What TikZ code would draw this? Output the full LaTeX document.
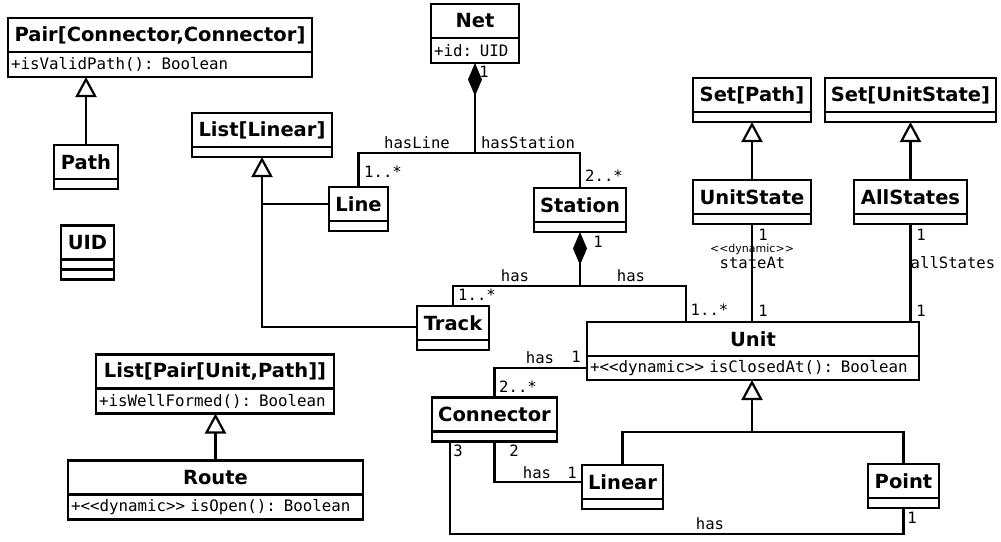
\documentclass[tikz,border=0pt]{standalone}
\usepackage{fontspec}
\setmainfont{DejaVu Sans}
\setmonofont{DejaVu Sans Mono}
\newfontfamily\smallsans{DejaVu Sans}
\usetikzlibrary{positioning,arrows.meta}

\begin{document}
\begin{tikzpicture}[x=1pt,y=-1pt,line width=2.2pt]
  \tikzset{cls/.style={draw,minimum width=#1,minimum height=34pt,inner sep=0pt,outer sep=0pt,font=\fontsize{19.5}{21}\selectfont\bfseries},
    body/.style={draw,text width=#1,inner xsep=3pt,inner ysep=0pt,outer sep=0pt,minimum height=10pt,align=left,font=\fontsize{15.8}{17}\selectfont\ttfamily},
    bodyt/.style={body=#1,minimum height=25pt},
    lbl/.style={inner sep=0pt,font=\fontsize{15.6}{17}\selectfont\ttfamily},
    tinylbl/.style={inner sep=0pt,font=\fontsize{11}{12}\selectfont\smallsans},
    gen/.style={-{Triangle[open,length=20pt,width=21pt,fill=white]}},
    comp/.style={-{Diamond[length=33pt,width=14pt]}}}
  \useasboundingbox (0,0) rectangle (1001,541);

  % classes
  \node[cls=304pt] (Pair) at (160,35) {Pair[Connector,Connector]};
  \node[bodyt=298pt,below=0pt of Pair] (Pair-b) {+isValidPath(): Boolean};
  \node[cls=64pt] (Path) at (86,162) {Path};
  \node[body=58pt,below=0pt of Path] (Path-b) {};
  \node[cls=53pt] (UID) at (87.5,242.5) {UID};
  \node[body=47pt,below=0pt of UID] (UID-b) {};
  \node[body=47pt,below=0pt of UID-b] (UID-c) {};
  \node[cls=140pt] (ListLinear) at (262,130) {List[Linear]};
  \node[body=134pt,below=0pt of ListLinear] (ListLinear-b) {};
  \node[cls=88pt] (Net) at (475,21) {Net};
  \node[bodyt=82pt,below=0pt of Net] (Net-b) {+id: UID};
  \node[cls=59pt] (Line) at (358.5,204) {Line};
  \node[body=53pt,below=0pt of Line] (Line-b) {};
  \node[cls=92pt] (Station) at (580,205) {Station};
  \node[body=86pt,below=0pt of Station] (Station-b) {};
  \node[cls=72pt] (Track) at (453,323) {Track};
  \node[body=66pt,below=0pt of Track] (Track-b) {};
  \node[cls=238pt] (ListPair) at (215,371.5) {List[Pair[Unit,Path]]};
  \node[bodyt=232pt,below=0pt of ListPair] (ListPair-b) {+isWellFormed(): Boolean};
  \node[cls=295pt] (Route) at (215.5,477.5) {Route};
  \node[bodyt=289pt,below=0pt of Route] (Route-b) {+<<dynamic>> isOpen(): Boolean};
  \node[cls=118pt] (SetPath) at (752,95) {Set[Path]};
  \node[body=112pt,below=0pt of SetPath] (SetPath-b) {};
  \node[cls=171pt] (SetUnitState) at (910.5,95) {Set[UnitState]};
  \node[body=165pt,below=0pt of SetUnitState] (SetUnitState-b) {};
  \node[cls=118pt] (UnitState) at (752,197) {UnitState};
  \node[body=112pt,below=0pt of UnitState] (UnitState-b) {};
  \node[cls=113pt] (AllStates) at (910.5,197) {AllStates};
  \node[body=107pt,below=0pt of AllStates] (AllStates-b) {};
  \node[cls=332pt] (Unit) at (753,339) {Unit};
  \node[bodyt=326pt,minimum height=24pt,below=0pt of Unit] (Unit-b) {+<<dynamic>> isClosedAt(): Boolean};
  \node[cls=125pt] (Connector) at (494.5,414.5) {Connector};
  \node[body=119pt,below=0pt of Connector] (Connector-b) {};
  \node[cls=81pt] (Linear) at (622.5,482) {Linear};
  \node[body=75pt,below=0pt of Linear] (Linear-b) {};
  \node[cls=71pt] (Point) at (903.5,481) {Point};
  \node[body=65pt,below=0pt of Point] (Point-b) {};

  % generalizations
  \draw[gen] (Path.north) -- (Path.north |- Pair-b.south);
  \draw[gen] (Route.north) -- (Route.north |- ListPair-b.south);
  \draw[gen] (UnitState.north) -- (SetPath-b.south);
  \draw[gen] (AllStates.north) -- (SetUnitState-b.south);
  \draw[gen] ([yshift=-4pt]Track.west) -| (ListLinear-b.south);
  \draw (Line.west) -- (Line.west -| ListLinear-b.south);
  \coordinate (genU) at (752,432);
  \draw (Linear.north) |- (genU) -| (Point.north);
  \draw[gen] (genU) -- (genU |- Unit-b.south);

  % compositions
  \coordinate (netJ) at (475,153);
  \draw[comp] (netJ) -- (Net-b.south);
  \draw (Line.north) |- (netJ) -| (Station.north);
  \coordinate (stJ) at (580,286);
  \draw[comp] (stJ) -- (Station-b.south);
  \draw (Track.north) |- (stJ) -| ([xshift=-67pt]Unit.north);

  % associations
  \draw (UnitState-b.south) -- (UnitState-b.south |- Unit.north);
  \draw (AllStates-b.south) -- (AllStates-b.south |- Unit.north);
  \draw (Unit-b.west) -| (Connector.north);
  \draw (Connector-b.south) |- (Linear.west);
  \coordinate (cpB) at (450,534);
  \draw (Connector-b.south -| cpB) -- (cpB) -| (Point-b.south);

  % labels
  \node[lbl] (nL1) at (484,72) {1};
  \node[lbl] (nL2) at (417,143) {hasLine};
  \node[lbl] (nL3) at (528,143) {hasStation};
  \node[lbl] (nL4) at (383,172) {1..*};
  \node[lbl] (nL5) at (604,176) {2..*};
  \node[lbl] (sL1) at (598,242) {1};
  \node[lbl] (sL2) at (515,276) {has};
  \node[lbl] (sL3) at (631,276) {has};
  \node[lbl] (sL4) at (477,295) {1..*};
  \node[lbl] (sL5) at (709.5,310) {1..*};
  \node[lbl] (uL1) at (763,235) {1};
  \node[tinylbl] (uL2) at (752,249) {<<dynamic>>};
  \node[lbl] (uL3) at (752.5,263) {stateAt};
  \node[lbl] (uL4) at (763,311) {1};
  \node[lbl] (aL1) at (921,235) {1};
  \node[lbl] (aL2) at (953,263) {allStates};
  \node[lbl] (aL3) at (921,311) {1};
  \node[lbl] (cL1) at (540,358) {has};
  \node[lbl] (cL2) at (576,357) {1};
  \node[lbl] (cL3) at (518,387) {2..*};
  \node[lbl] (cL4) at (458,451) {3};
  \node[lbl] (cL5) at (514,451) {2};
  \node[lbl] (cL6) at (537,473) {has};
  \node[lbl] (cL7) at (572,473) {1};
  \node[lbl] (pL1) at (710,524) {has};
  \node[lbl] (pL2) at (912,518) {1};
\end{tikzpicture}
\end{document}
